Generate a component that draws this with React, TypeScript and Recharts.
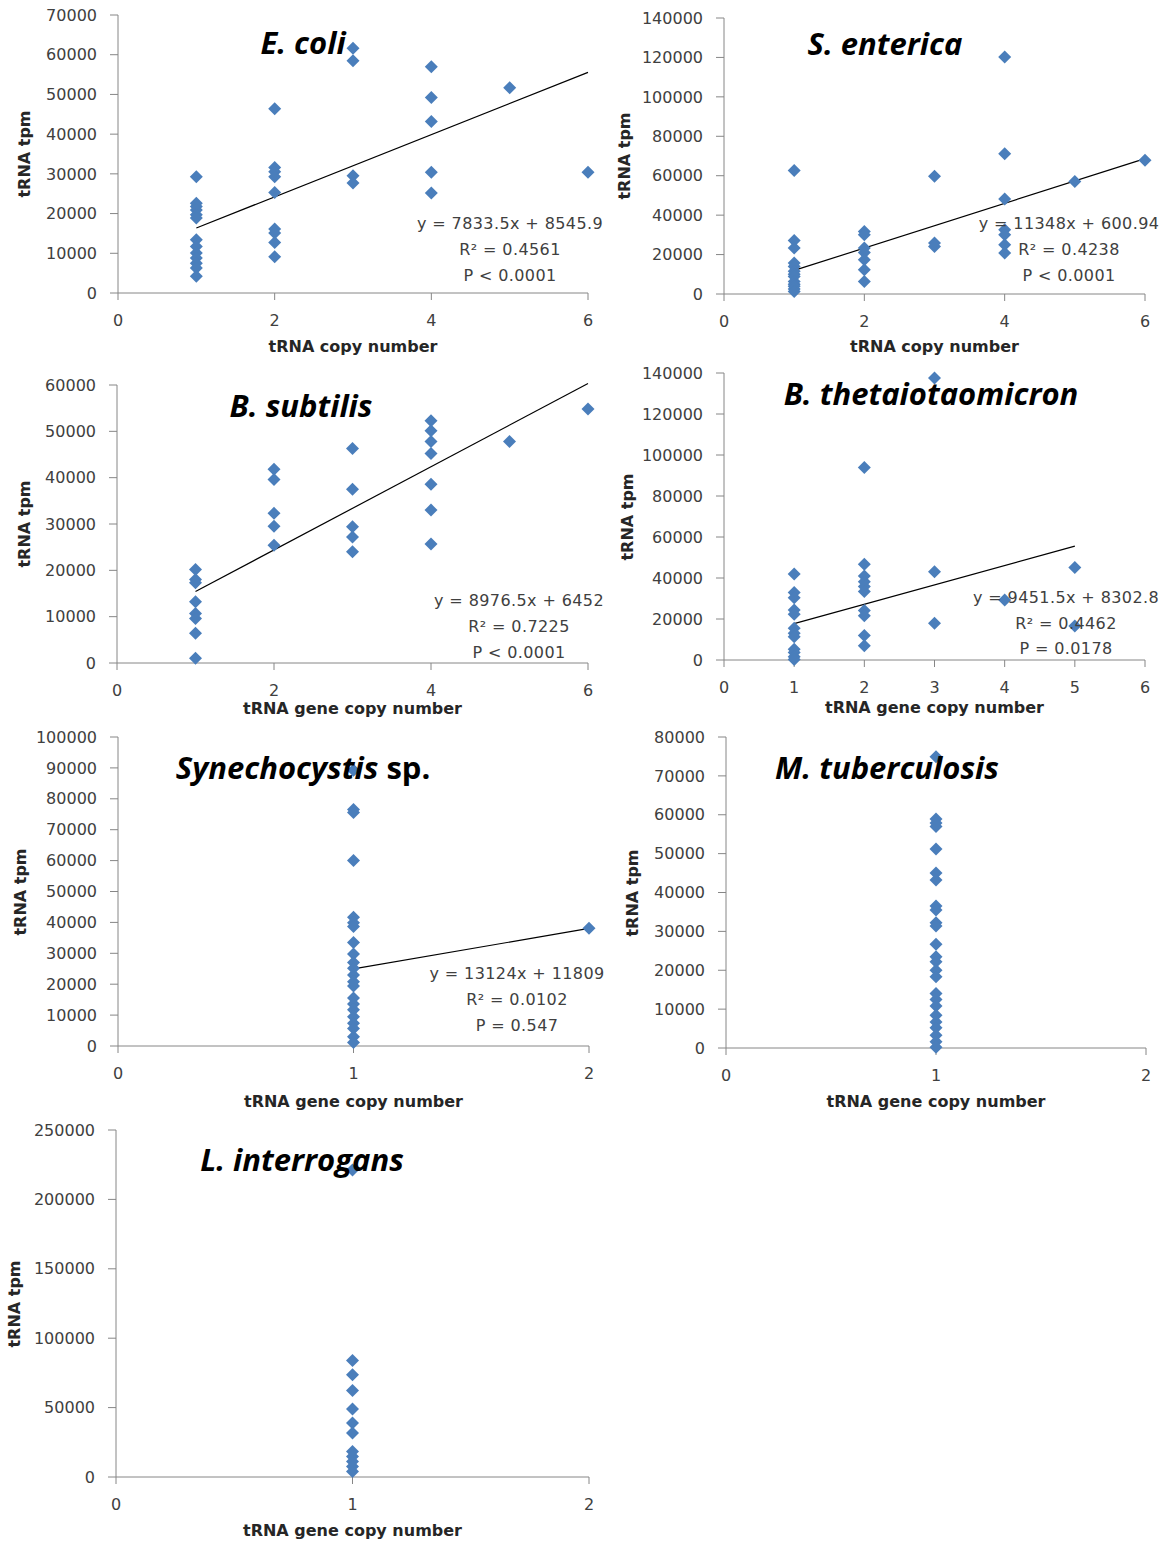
import React from 'react'
import { ReferenceLine, Scatter, ScatterChart, XAxis, YAxis } from 'recharts'

const BLUE = '#4A7EBB'
const AXIS = '#868686'
const TEXT = '#404040'
const SANS = '"DejaVu Sans", sans-serif'
const TITLE_FONT = '"Open Sans", sans-serif'

// tRNA tpm values, one inner list per tRNA copy number (index 0 = copy 1)
const ecoliTpm = [
  [29300, 22600, 21800, 20900, 19700, 18900, 13400, 11700, 10100, 8800, 7500, 6300, 4200],
  [46400, 31600, 30500, 29300, 25300, 16100, 15100, 12700, 9100],
  [61600, 58500, 29500, 27700],
  [57000, 49200, 43200, 30400, 25200],
  [51700],
  [30400],
]
const entericaTpm = [
  [62700, 27200, 23300, 15700, 14000, 11500, 10000, 8900, 6400, 5000, 3900, 2500, 1300],
  [31700, 30100, 23300, 21000, 17400, 12300, 6400],
  [59700, 25900, 24100],
  [120200, 71200, 48200, 32600, 30100, 25000, 20800],
  [57100],
  [67800],
]
const subtilisTpm = [
  [20200, 18000, 17300, 13200, 10700, 9600, 6400, 1000],
  [41800, 39600, 32300, 29500, 25400],
  [46300, 37500, 29400, 27200, 24000],
  [52300, 50100, 47800, 45200, 38600, 33000, 25700],
  [47800],
  [54800],
]
const thetaTpm = [
  [42000, 32900, 30400, 24400, 22300, 15500, 13000, 11400, 5200, 3600, 1600, 300],
  [93900, 46700, 41000, 38200, 35800, 33400, 24100, 21600, 11900, 7000],
  [137600, 43100, 17900],
  [29300],
  [45100, 16600],
]
const synechoTpm = [
  [89200, 76500, 75600, 60000, 41700, 39900, 38700, 33500, 29800, 27000, 25200, 23000, 20800, 19400, 15500, 13600, 11700, 9500, 7400, 5700, 3000, 1100],
  [38100],
]
const tuberTpm = [
  [74900, 58900, 57900, 57000, 51200, 45000, 43200, 36500, 35500, 32200, 31400, 26700, 23500, 22200, 20000, 18300, 14000, 12500, 10800, 8400, 6700, 5200, 3300, 1600, 200],
]
const interrogansTpm = [
  [221200, 83900, 73600, 62300, 49000, 38900, 31700, 18400, 14800, 11200, 7600, 4000],
]

// trend lines as printed on the chart: [slope, intercept, first x, last x]
const ecoliTrend = [7833.5, 8545.9, 1, 6]
const entericaTrend = [11348, 600.94, 1, 6]
const subtilisTrend = [8976.5, 6452, 1, 6]
const thetaTrend = [9451.5, 8302.8, 1, 5]
const synechoTrend = [13124, 11809, 1, 2]

const ecoliEq = ['y = 7833.5x + 8545.9', 'R² = 0.4561', 'P < 0.0001']
const entericaEq = ['y = 11348x + 600.94', 'R² = 0.4238', 'P < 0.0001']
const subtilisEq = ['y = 8976.5x + 6452', 'R² = 0.7225', 'P < 0.0001']
const thetaEq = ['y = 9451.5x + 8302.8', 'R² = 0.4462', 'P = 0.0178']
const synechoEq = ['y = 13124x + 11809', 'R² = 0.0102', 'P = 0.547']

const xTicksEven = [0, 2, 4, 6]
const xTicksSix = [0, 1, 2, 3, 4, 5, 6]
const xTicksTwo = [0, 1, 2]
const yTicks70k = [0, 10000, 20000, 30000, 40000, 50000, 60000, 70000]
const yTicks140k = [0, 20000, 40000, 60000, 80000, 100000, 120000, 140000]
const yTicks60k = [0, 10000, 20000, 30000, 40000, 50000, 60000]
const yTicks100k = [0, 10000, 20000, 30000, 40000, 50000, 60000, 70000, 80000, 90000, 100000]
const yTicks80k = [0, 10000, 20000, 30000, 40000, 50000, 60000, 70000, 80000]
const yTicks250k = [0, 50000, 100000, 150000, 200000, 250000]

const toPoints = (groups: number[][]) =>
  groups.flatMap((g, i) => g.map((y) => ({ x: i + 1, y })))

const Diamond = (props: any) => {
  const { cx, cy } = props
  if (cx == null || cy == null) return null
  return (
    <polygon
      points={`${cx},${cy - 6.5} ${cx + 6.5},${cy} ${cx},${cy + 6.5} ${cx - 6.5},${cy}`}
      fill={BLUE}
    />
  )
}

type PanelDef = {
  box: [number, number, number, number] // plot left, right, top, bottom
  tpm: number[][]
  xTicks: number[]
  yTicks: number[]
  trend?: number[]
  title: React.ReactNode
  titlePos: [number, number]
  xLabel: string
  xLabelY: number
  yLabelX: number
  eq?: string[]
  eqPos?: [number, number]
  eqGap?: number
}

const panels: PanelDef[] = [
  {
    box: [118, 588, 15, 293], tpm: ecoliTpm, xTicks: xTicksEven, yTicks: yTicks70k, trend: ecoliTrend,
    title: 'E. coli', titlePos: [303, 42], xLabel: 'tRNA copy number', xLabelY: 347, yLabelX: 25,
    eq: ecoliEq, eqPos: [510, 224],
  },
  {
    box: [724, 1145, 18, 294], tpm: entericaTpm, xTicks: xTicksEven, yTicks: yTicks140k, trend: entericaTrend,
    title: 'S. enterica', titlePos: [885, 43], xLabel: 'tRNA copy number', xLabelY: 347, yLabelX: 625,
    eq: entericaEq, eqPos: [1069, 224],
  },
  {
    box: [117, 588, 385, 663], tpm: subtilisTpm, xTicks: xTicksEven, yTicks: yTicks60k, trend: subtilisTrend,
    title: 'B. subtilis', titlePos: [301, 405], xLabel: 'tRNA gene copy number', xLabelY: 709, yLabelX: 25,
    eq: subtilisEq, eqPos: [519, 601],
  },
  {
    box: [724, 1145, 373, 660], tpm: thetaTpm, xTicks: xTicksSix, yTicks: yTicks140k, trend: thetaTrend,
    title: 'B. thetaiotaomicron', titlePos: [931, 393], xLabel: 'tRNA gene copy number', xLabelY: 708, yLabelX: 628,
    eq: thetaEq, eqPos: [1066, 598], eqGap: 25.5,
  },
  {
    box: [118, 589, 737, 1046], tpm: synechoTpm, xTicks: xTicksTwo, yTicks: yTicks100k, trend: synechoTrend,
    title: (
      <>
        <span style={{ fontStyle: 'italic' }}>Synechocystis</span> sp.
      </>
    ),
    titlePos: [303, 767], xLabel: 'tRNA gene copy number', xLabelY: 1102, yLabelX: 21,
    eq: synechoEq, eqPos: [517, 974],
  },
  {
    box: [726, 1146, 737, 1048], tpm: tuberTpm, xTicks: xTicksTwo, yTicks: yTicks80k,
    title: 'M. tuberculosis', titlePos: [887, 767], xLabel: 'tRNA gene copy number', xLabelY: 1102, yLabelX: 633,
  },
  {
    box: [116, 589, 1130, 1477], tpm: interrogansTpm, xTicks: xTicksTwo, yTicks: yTicks250k,
    title: 'L. interrogans', titlePos: [302, 1159], xLabel: 'tRNA gene copy number', xLabelY: 1531, yLabelX: 15,
  },
]

const Txt = ({ x, y, children, style }: { x: number; y: number; children: React.ReactNode; style?: React.CSSProperties }) => (
  <div
    style={{
      position: 'absolute',
      left: x,
      top: y,
      transform: 'translate(-50%, -50%)',
      whiteSpace: 'nowrap',
      lineHeight: 1,
      ...style,
    }}
  >
    {children}
  </div>
)

const Y_AXIS_W = 110
const RIGHT = 25
const TOP = 10
const X_AXIS_H = 50

function Panel({ p }: { p: PanelDef }) {
  const [x0, x1, y0, y1] = p.box
  const width = x1 - x0 + Y_AXIS_W + RIGHT
  const height = y1 - y0 + TOP + X_AXIS_H
  const xMax = p.xTicks[p.xTicks.length - 1]
  const yMax = p.yTicks[p.yTicks.length - 1]
  const tick = { fill: TEXT, fontSize: 16, fontFamily: SANS }
  const gap = p.eqGap ?? 26

  return (
    <>
      <div style={{ position: 'absolute', left: x0 - Y_AXIS_W, top: y0 - TOP }}>
        <ScatterChart width={width} height={height} margin={{ top: TOP, right: RIGHT, bottom: 0, left: 0 }}>
          <XAxis
            type="number"
            dataKey="x"
            domain={[0, xMax]}
            ticks={p.xTicks}
            interval={0}
            height={X_AXIS_H}
            axisLine={{ stroke: AXIS }}
            tickLine={{ stroke: AXIS }}
            tickSize={7}
            tickMargin={15}
            tick={tick}
          />
          <YAxis
            type="number"
            dataKey="y"
            domain={[0, yMax]}
            ticks={p.yTicks}
            interval={0}
            width={Y_AXIS_W}
            axisLine={{ stroke: AXIS }}
            tickLine={{ stroke: AXIS }}
            tickSize={8}
            tickMargin={13}
            tick={tick}
          />
          <Scatter data={toPoints(p.tpm)} shape={Diamond} isAnimationActive={false} />
          {p.trend && (
            <ReferenceLine
              segment={[
                { x: p.trend[2], y: p.trend[0] * p.trend[2] + p.trend[1] },
                { x: p.trend[3], y: p.trend[0] * p.trend[3] + p.trend[1] },
              ]}
              stroke="#000"
              strokeWidth={1.2}
              ifOverflow="visible"
            />
          )}
        </ScatterChart>
      </div>
      <Txt x={(x0 + x1) / 2} y={p.xLabelY} style={{ fontFamily: SANS, fontWeight: 'bold', fontSize: 16, color: '#262626' }}>
        {p.xLabel}
      </Txt>
      <Txt
        x={p.yLabelX}
        y={(y0 + y1) / 2}
        style={{
          fontFamily: SANS,
          fontWeight: 'bold',
          fontSize: 16,
          color: '#262626',
          transform: 'translate(-50%, -50%) rotate(-90deg)',
        }}
      >
        tRNA tpm
      </Txt>
      {p.eq &&
        p.eqPos &&
        p.eq.map((line, i) => (
          <Txt
            key={i}
            x={p.eqPos![0]}
            y={p.eqPos![1] + i * gap}
            style={{ fontFamily: SANS, fontSize: 16, color: TEXT, letterSpacing: 0.4 }}
          >
            {line}
          </Txt>
        ))}
      <Txt
        x={p.titlePos[0]}
        y={p.titlePos[1]}
        style={{ fontFamily: TITLE_FONT, fontWeight: 'bold', fontStyle: typeof p.title === 'string' ? 'italic' : 'normal', fontSize: 31, color: '#000' }}
      >
        {p.title}
      </Txt>
    </>
  )
}

export default function App() {
  return (
    <div style={{ position: 'absolute', left: 0, top: 0, width: 1162, height: 1545, background: '#fff', overflow: 'hidden' }}>
      {panels.map((p, i) => (
        <Panel key={i} p={p} />
      ))}
    </div>
  )
}
